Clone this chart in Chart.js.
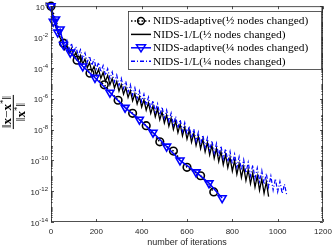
<!DOCTYPE html>
<html>
<head>
<meta charset="utf-8">
<script src="https://cdn.jsdelivr.net/npm/chart.js@4"></script>
<style>
html, body { margin: 0; padding: 0; background: #fff; }
</style>
</head>
<body>
<canvas id="conv-chart" width="332" height="248"></canvas>
<script>
// values are log10 of ||x - x*|| / ||x*||

const adaptHalfIters = [0, 55, 115, 172, 235, 296, 360, 420, 480, 540, 600, 660, 718];
const adaptHalfLog = [0, -2.4, -3.5, -4.35, -5.1, -6.1, -6.95, -7.75, -8.8, -9.4, -10.45, -11.0, -12.05];

const adaptQuarterIters = [0, 10, 20, 30, 40, 55, 85, 140, 194, 260, 327, 390, 450, 510, 569, 640, 697, 755];
const adaptQuarterLog = [0, -1.0, -0.85, -1.7, -1.5, -2.5, -3.0, -3.9, -4.64, -5.6, -6.58, -7.35, -8.2, -9.1, -10.0, -10.77, -11.48, -12.45];

// the 1/L runs are sampled every 10 iterations, starting at 0
const oneLStep = 10;
const oneLHalfLog = [0, -0.75, -1.3, -1.7, -2.05,
  -2.30, -2.81, -2.53, -3.05, -2.75, -3.29, -2.98, -3.52, -3.20, -3.76,
  -3.43, -3.99, -3.66, -4.23, -3.89, -4.47, -4.10, -4.68, -4.30, -4.88,
  -4.49, -5.09, -4.69, -5.30, -4.89, -5.51, -5.09, -5.71, -5.28, -5.92,
  -5.48, -6.13, -5.68, -6.34, -5.88, -6.54, -6.07, -6.75, -6.27, -6.96,
  -6.47, -7.17, -6.67, -7.37, -6.86, -7.58, -7.06, -7.79, -7.26, -7.99,
  -7.45, -8.20, -7.65, -8.41, -7.85, -8.62, -8.05, -8.82, -8.24, -9.03,
  -8.44, -9.24, -8.64, -9.45, -8.84, -9.65, -9.03, -9.86, -9.23, -10.07,
  -9.43, -10.28, -9.63, -10.48, -9.82, -10.69, -10.02, -10.90, -10.22, -11.11,
  -10.42, -11.31, -10.61, -11.52, -10.81, -11.73, -11.01, -11.94, -11.21, -12.14,
  -11.40, -12.35];
const oneLQuarterLog = [0, -0.55, -1.05, -1.4, -1.75,
  -2.00, -2.55, -2.21, -2.77, -2.41, -2.99, -2.62, -3.20, -2.82, -3.42,
  -3.03, -3.62, -3.24, -3.84, -3.44, -4.06, -3.65, -4.27, -3.85, -4.49,
  -4.06, -4.69, -4.27, -4.91, -4.47, -5.13, -4.68, -5.34, -4.88, -5.56,
  -5.09, -5.77, -5.30, -5.98, -5.50, -6.20, -5.71, -6.41, -5.91, -6.63,
  -6.12, -6.84, -6.33, -7.05, -6.53, -7.27, -6.74, -7.48, -6.94, -7.70,
  -7.15, -7.91, -7.36, -8.12, -7.56, -8.33, -7.77, -8.55, -7.97, -8.77,
  -8.18, -8.98, -8.36, -9.16, -8.54, -9.34, -8.72, -9.53, -8.90, -9.71,
  -9.07, -9.90, -9.25, -10.09, -9.43, -10.26, -9.61, -10.45, -9.78, -10.64,
  -9.96, -10.82, -10.13, -11.01, -10.31, -11.19, -10.49, -11.37, -10.66, -11.56,
  -10.84, -11.75, -11.02, -11.93, -11.19, -12.05, -11.37, -12.15, -11.55, -12.25];

const xTicks = [0, 200, 400, 600, 800, 1000, 1200];
const yTickExps = [0, -2, -4, -6, -8, -10, -12, -14];
const legendLabels = [
  'NIDS-adaptive(\u00BD nodes changed)',
  'NIDS-1/L(\u00BD nodes changed)',
  'NIDS-adaptive(\u00BC nodes changed)',
  'NIDS-1/L(\u00BC nodes changed)'
];
const xTitle = 'number of iterations';

const axisColor = '#262626';
const blue = '#0000ff';

function pairs(iters, logs) {
  return logs.map((v, i) => ({ x: iters[i], y: Math.pow(10, v) }));
}
function stepPairs(step, logs) {
  return logs.map((v, i) => ({ x: i * step, y: Math.pow(10, v) }));
}

// text runs: [text, style] with style n (normal), b (bold), s (superscript)
function runFont(style) {
  if (style === 'b') return 'bold 13px "Liberation Serif"';
  if (style === 's') return '9px "Liberation Serif"';
  return '13px "Liberation Serif"';
}
function drawRuns(ctx, runs, cx, y) {
  let w = 0;
  runs.forEach(r => { ctx.font = runFont(r[1]); w += ctx.measureText(r[0]).width; });
  let x = cx - w / 2;
  runs.forEach(r => {
    ctx.font = runFont(r[1]);
    ctx.fillText(r[0], x, r[1] === 's' ? y - 5 : y);
    x += ctx.measureText(r[0]).width;
  });
  return w;
}

const framePlugin = {
  id: 'frame',
  afterDatasetsDraw(chart) {
    const ctx = chart.ctx;
    const a = chart.chartArea;
    const xs = chart.scales.x, ys = chart.scales.y;
    ctx.save();
    ctx.strokeStyle = axisColor;
    ctx.fillStyle = axisColor;
    ctx.lineWidth = 0.8;
    ctx.strokeRect(a.left + 0.5, a.top + 0.5, a.right - a.left - 1, a.bottom - a.top - 1);

    ctx.beginPath();
    xTicks.forEach(t => {
      const px = Math.round(xs.getPixelForValue(t)) + 0.5;
      ctx.moveTo(px, a.bottom); ctx.lineTo(px, a.bottom - 3);
      ctx.moveTo(px, a.top); ctx.lineTo(px, a.top + 3);
    });
    yTickExps.forEach(e => {
      const py = Math.round(ys.getPixelForValue(Math.pow(10, e))) + 0.5;
      ctx.moveTo(a.left, py); ctx.lineTo(a.left + 3, py);
      ctx.moveTo(a.right, py); ctx.lineTo(a.right - 3, py);
    });
    for (let k = -14; k < 0; k++) {
      for (let m = 2; m <= 9; m++) {
        const py = Math.round(ys.getPixelForValue(m * Math.pow(10, k))) + 0.5;
        ctx.moveTo(a.left, py); ctx.lineTo(a.left + 1.6, py);
        ctx.moveTo(a.right, py); ctx.lineTo(a.right - 1.6, py);
      }
    }
    ctx.stroke();

    // tick labels
    ctx.font = '8px "Liberation Sans"';
    ctx.textAlign = 'center';
    ctx.textBaseline = 'middle';
    xTicks.forEach(t => ctx.fillText(String(t), xs.getPixelForValue(t), a.bottom + 10));
    ctx.font = '9px "Liberation Sans"';
    ctx.fillText(xTitle, (a.left + a.right) / 2, a.bottom + 21);

    yTickExps.forEach(e => {
      const py = ys.getPixelForValue(Math.pow(10, e));
      const exp = e === 0 ? '0' : '-' + Math.abs(e);
      ctx.font = '6px "Liberation Sans"';
      ctx.textAlign = 'left';
      const ew = ctx.measureText(exp).width;
      const ex = a.left - 3 - ew;
      ctx.fillText(exp, ex, py - 2);
      ctx.font = '8px "Liberation Sans"';
      ctx.textAlign = 'right';
      ctx.fillText('10', ex, py + 1.5);
    });

    // y title: fraction, rotated
    ctx.save();
    ctx.translate(14, 112);
    ctx.rotate(-Math.PI / 2);
    ctx.fillStyle = '#000';
    ctx.textAlign = 'left';
    ctx.textBaseline = 'alphabetic';
    const wNum = drawRuns(ctx, [['\u2016', 'n'], ['x', 'b'], ['\u2212', 'n'], ['x', 'b'], ['*', 's'], ['\u2016', 'n']], 0, -3);
    drawRuns(ctx, [['\u2016', 'n'], ['x', 'b'], ['*', 's'], ['\u2016', 'n']], 0, 11);
    ctx.fillRect(-wNum / 2 - 1, -1.2, wNum + 2, 1);
    ctx.restore();

    // legend
    const lx = 128.5, ly = 11.5, lw = 193, lh = 58;
    ctx.fillStyle = '#fff';
    ctx.fillRect(lx, ly, lw, lh);
    ctx.strokeStyle = '#333';
    ctx.lineWidth = 0.8;
    ctx.strokeRect(lx, ly, lw, lh);
    const styles = [
      { color: '#000', dash: [1.5, 2], marker: 'circle' },
      { color: '#000', dash: [], marker: null },
      { color: blue, dash: [], marker: 'tri' },
      { color: blue, dash: [4, 2, 1, 2], marker: null }
    ];
    legendLabels.forEach((lab, i) => {
      const y = 21 + i * 13.4;
      const st = styles[i];
      ctx.strokeStyle = st.color;
      ctx.lineWidth = 1.5;
      ctx.setLineDash(st.dash);
      ctx.beginPath(); ctx.moveTo(131, y); ctx.lineTo(151, y); ctx.stroke();
      ctx.setLineDash([]);
      if (st.marker === 'circle') {
        ctx.beginPath(); ctx.arc(141, y, 3.4, 0, Math.PI * 2); ctx.stroke();
      } else if (st.marker === 'tri') {
        ctx.beginPath(); ctx.moveTo(136.5, y - 3); ctx.lineTo(145.5, y - 3); ctx.lineTo(141, y + 4); ctx.closePath(); ctx.stroke();
      }
      ctx.fillStyle = '#000';
      ctx.font = '11.4px "Liberation Serif"';
      ctx.textAlign = 'left';
      ctx.textBaseline = 'middle';
      ctx.fillText(lab, 153, y + 0.5);
    });
    ctx.restore();
  }
};

new Chart(document.getElementById('conv-chart'), {
  type: 'line',
  data: {
    datasets: [
      {
        label: legendLabels[0],
        data: pairs(adaptHalfIters, adaptHalfLog),
        borderColor: '#000', borderWidth: 1.5, borderDash: [1.5, 2],
        pointStyle: 'circle', pointRadius: 3.8, pointBorderWidth: 1.6,
        pointBorderColor: '#000', pointBackgroundColor: 'rgba(0,0,0,0)',
        clip: false, order: 4
      },
      {
        label: legendLabels[1],
        data: stepPairs(oneLStep, oneLHalfLog),
        borderColor: '#000', borderWidth: 1.3, pointRadius: 0, order: 3
      },
      {
        label: legendLabels[2],
        data: pairs(adaptQuarterIters, adaptQuarterLog),
        borderColor: blue, borderWidth: 1.5,
        pointStyle: 'triangle', rotation: 180, pointRadius: 4.6, pointBorderWidth: 1.6,
        pointBorderColor: blue, pointBackgroundColor: 'rgba(0,0,0,0)',
        clip: false, order: 2
      },
      {
        label: legendLabels[3],
        data: stepPairs(oneLStep, oneLQuarterLog),
        borderColor: blue, borderWidth: 1.2, borderDash: [4, 2, 1, 2],
        pointRadius: 0, order: 1
      }
    ]
  },
  options: {
    responsive: false,
    animation: false,
    layout: { padding: { left: 51, right: 9, top: 5, bottom: 26 } },
    scales: {
      x: { type: 'linear', min: 0, max: 1200, display: false },
      y: { type: 'logarithmic', min: 1e-14, max: 1, display: false }
    },
    plugins: { legend: { display: false }, tooltip: { enabled: false } }
  },
  plugins: [framePlugin]
});
</script>
</body>
</html>
